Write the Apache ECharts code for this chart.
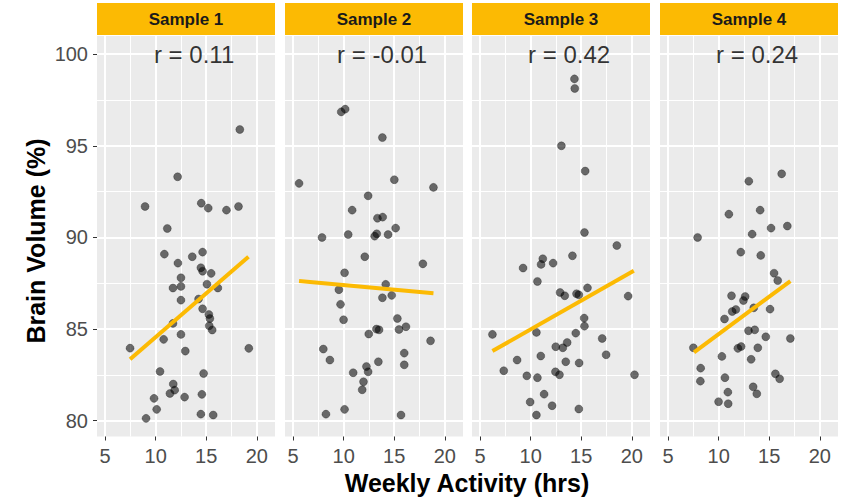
<!DOCTYPE html>
<html>
<head>
<meta charset="utf-8">
<script src="https://cdn.jsdelivr.net/npm/echarts@6/dist/echarts.min.js"></script>
<style>html,body{margin:0;padding:0;background:#fff;}#c{width:842px;height:500px;}</style>
</head>
<body>
<div id="c"></div>
<script>
// ---- data ----
const panelNames = ['Sample 1', 'Sample 2', 'Sample 3', 'Sample 4'];
const rLabels = ['r = 0.11', 'r = -0.01', 'r = 0.42', 'r = 0.24'];
const rLabelPos = [13.8, 100];
const xTicks = [5, 10, 15, 20];
const xMinor = [7.5, 12.5, 17.5];
const yTicks = [80, 85, 90, 95, 100];
const yMinor = [82.5, 87.5, 92.5, 97.5];

const sample1 = [
  [18.32,95.89],[12.17,93.31],[8.95,91.69],[14.51,91.87],[15.2,91.6],[17.0,91.49],[18.19,91.69],
  [11.15,90.49],[10.86,89.09],[14.64,89.2],[13.62,88.95],[12.2,88.6],[14.47,88.35],[14.64,88.16],
  [15.49,88.04],[12.5,87.8],[15.07,87.45],[11.71,87.24],[12.5,87.33],[16.15,87.24],[12.5,86.58],
  [14.24,86.64],[14.64,86.11],[15.26,85.8],[15.36,85.58],[15.3,85.18],[15.59,84.95],[11.71,85.31],
  [12.5,84.71],[10.79,84.44],[7.47,83.96],[19.21,83.95],[12.93,83.8],[10.43,82.69],[14.74,82.58],
  [11.74,82.0],[11.88,81.67],[11.41,81.49],[9.84,81.22],[12.86,81.29],[14.57,81.44],[10.1,80.62],
  [14.47,80.36],[15.69,80.31],[9.05,80.13]
];
const sample2 = [
  [10.15,97.0],[9.76,96.85],[13.83,95.45],[5.59,92.95],[15.01,93.15],[18.88,92.73],[12.42,92.27],
  [10.84,91.49],[13.34,91.05],[13.86,91.11],[15.14,90.51],[7.86,90.0],[10.45,90.16],[13.07,90.07],
  [13.27,90.2],[14.39,90.16],[12.09,88.95],[17.83,88.56],[10.09,88.07],[14.16,87.44],[9.53,87.15],
  [14.75,86.84],[13.83,86.71],[9.69,86.35],[9.99,85.51],[15.31,85.58],[15.47,84.98],[16.16,85.13],
  [13.24,85.0],[13.5,84.96],[12.48,84.73],[18.59,84.36],[7.99,83.91],[15.99,83.69],[8.64,83.31],
  [13.43,83.22],[15.99,83.05],[12.25,82.96],[12.42,82.67],[10.94,82.62],[11.96,82.13],[11.83,81.69],
  [10.09,80.62],[8.25,80.36],[15.67,80.31]
];
const sample3 = [
  [14.33,98.65],[14.36,98.13],[13.04,95.0],[15.39,93.62],[15.32,90.27],[18.52,89.56],[11.2,88.84],
  [11.03,88.53],[12.22,88.6],[14.13,89.0],[9.25,88.33],[10.67,87.6],[12.91,87.0],[13.37,86.82],
  [14.53,86.93],[14.76,86.87],[15.62,87.25],[19.64,86.8],[15.29,85.6],[15.32,85.16],[6.22,84.71],
  [10.57,84.82],[14.46,84.78],[17.07,84.49],[13.61,84.27],[12.48,84.04],[13.18,83.98],[11.0,83.53],
  [17.46,83.6],[8.66,83.31],[13.47,83.22],[14.79,83.15],[7.34,82.73],[9.62,82.45],[10.67,82.35],
  [12.45,82.67],[12.85,82.51],[20.27,82.51],[11.33,81.45],[9.95,81.02],[12.12,80.82],[14.76,80.64],
  [10.57,80.31]
];
const sample4 = [
  [16.23,93.47],[12.98,93.07],[11.01,91.27],[14.1,91.49],[15.18,90.51],[16.79,90.62],[13.31,90.18],
  [7.92,90.0],[12.19,89.2],[14.16,89.02],[15.48,88.05],[15.84,87.65],[11.27,86.82],[12.62,86.78],
  [12.45,86.56],[13.47,86.16],[15.08,86.09],[11.7,86.07],[11.34,85.96],[10.58,85.55],[12.95,84.91],
  [13.57,84.96],[14.66,84.58],[17.09,84.49],[7.5,83.98],[12.22,84.05],[11.9,83.95],[13.87,83.98],
  [10.32,83.51],[13.21,83.35],[8.22,82.87],[8.19,82.16],[10.62,82.35],[15.61,82.56],[16.03,82.29],
  [10.91,81.56],[13.41,81.85],[13.77,81.47],[9.99,81.04],[10.94,80.93]
];
// fitted regression line end points
const fit1 = [[7.47,83.35],[19.18,88.95]];
const fit2 = [[5.59,87.62],[18.88,86.95]];
const fit3 = [[6.22,83.8],[20.2,88.18]];
const fit4 = [[7.56,83.73],[17.09,87.62]];

// ---- layout / style ----
const samples = [sample1, sample2, sample3, sample4];
const fits = [fit1, fit2, fit3, fit4];
const panelLefts = [97, 285, 472, 660];
const panelW = 178, panelTop = 36, panelH = 400.5;
const X_MIN = 4.2, X_MAX = 21.8, Y_MIN = 79.14, Y_MAX = 100.99;
const YELLOW = '#FCBA03';
const FONT = '"Liberation Sans", Arial, Helvetica, sans-serif';

const grid = [], xAxis = [], yAxis = [], series = [], graphic = [];
panelLefts.forEach((left, i) => {
  grid.push({left: left, top: panelTop, width: panelW, height: panelH, show: true,
    backgroundColor: '#EBEBEB', borderWidth: 0, containLabel: false});
  // minor x
  xAxis.push({type: 'value', gridIndex: i, position: 'top', min: X_MIN, max: X_MAX,
    axisLine: {show: false}, axisLabel: {show: false},
    axisTick: {show: false, customValues: xMinor},
    splitLine: {show: true, lineStyle: {color: '#FFFFFF', width: 1}}});
  // major x
  xAxis.push({type: 'value', gridIndex: i, position: 'bottom', min: X_MIN, max: X_MAX,
    axisLine: {show: false},
    axisTick: {show: true, length: 4, customValues: xTicks, lineStyle: {color: '#333333', width: 1}},
    axisLabel: {show: true, customValues: xTicks, margin: 9, color: '#4D4D4D', fontSize: 20, fontFamily: FONT},
    splitLine: {show: true, lineStyle: {color: '#FFFFFF', width: 2}}});
  // minor y
  yAxis.push({type: 'value', gridIndex: i, position: 'right', min: Y_MIN, max: Y_MAX,
    axisLine: {show: false}, axisLabel: {show: false},
    axisTick: {show: false, customValues: yMinor},
    splitLine: {show: true, lineStyle: {color: '#FFFFFF', width: 1}}});
  // major y
  yAxis.push({type: 'value', gridIndex: i, position: 'left', min: Y_MIN, max: Y_MAX,
    axisLine: {show: false},
    axisTick: {show: i === 0, length: 4, customValues: yTicks, lineStyle: {color: '#333333', width: 1}},
    axisLabel: {show: i === 0, customValues: yTicks, margin: 9, color: '#4D4D4D', fontSize: 20, fontFamily: FONT},
    splitLine: {show: true, lineStyle: {color: '#FFFFFF', width: 2}}});

  series.push({type: 'scatter', xAxisIndex: 2 * i + 1, yAxisIndex: 2 * i + 1,
    data: samples[i], symbolSize: 8, z: 3,
    itemStyle: {color: 'rgba(0,0,0,0.7)', borderColor: 'rgba(0,0,0,0.7)', borderWidth: 0.5},
    silent: true, animation: false});
  series.push({type: 'line', xAxisIndex: 2 * i + 1, yAxisIndex: 2 * i + 1,
    data: fits[i], showSymbol: false, symbol: 'none', z: 4,
    lineStyle: {color: YELLOW, width: 4, cap: 'butt'}, silent: true, animation: false});
  series.push({type: 'scatter', xAxisIndex: 2 * i + 1, yAxisIndex: 2 * i + 1,
    data: [rLabelPos], symbolSize: 0, z: 5, silent: true, animation: false,
    label: {show: true, position: 'inside', formatter: rLabels[i], color: '#000000',
      fontSize: 24, fontFamily: FONT, align: 'center', verticalAlign: 'middle'}});

  graphic.push({type: 'rect', shape: {x: left, y: 3, width: panelW, height: 32},
    style: {fill: YELLOW}, silent: true});
  graphic.push({type: 'text', x: left + panelW / 2, y: 19.5, silent: true,
    style: {text: panelNames[i], fill: '#1A1A1A', font: 'bold 17px ' + FONT,
      textAlign: 'center', textVerticalAlign: 'middle'}});
});

graphic.push({type: 'text', x: 467, y: 483, silent: true,
  style: {text: 'Weekly Activity (hrs)', fill: '#000000', font: 'bold 25px ' + FONT,
    textAlign: 'center', textVerticalAlign: 'middle'}});
graphic.push({type: 'text', x: 36, y: 241, rotation: Math.PI / 2, silent: true,
  style: {text: 'Brain Volume (%)', fill: '#000000', font: 'bold 25px ' + FONT,
    textAlign: 'center', textVerticalAlign: 'middle'}});

const chart = echarts.init(document.getElementById('c'), null, {renderer: 'svg'});
chart.setOption({animation: false, backgroundColor: '#FFFFFF', grid, xAxis, yAxis, series, graphic});
</script>
</body>
</html>
